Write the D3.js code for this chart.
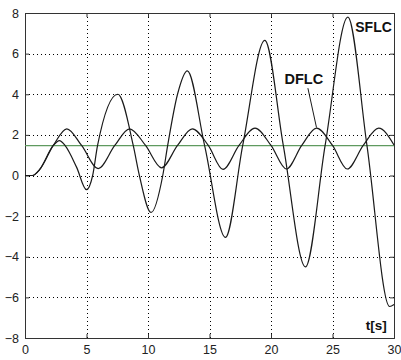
<!DOCTYPE html>
<html>
<head>
<meta charset="utf-8">
<script src="https://cdn.jsdelivr.net/npm/d3@7"></script>
<style>
  body { margin: 0; background: #fff; }
  svg { display: block; font-family: Arial, "Liberation Sans", sans-serif; }
</style>
</head>
<body>
<svg id="chart"></svg>
<script>
// data
const sflcT = [0, 0.6, 1.2, 2.3, 2.8, 3.25, 4.2, 5.0, 5.5, 5.9, 7.55, 8.8, 9.3, 10.25, 11.2, 11.6, 12.4, 13.2, 14.6, 16.3, 17.7, 19.5, 21.0, 22.8, 24.4, 26.25, 27.8, 29.65, 30];
const sflcV = [0, 0, 0.3, 1.48, 1.72, 1.48, 0.4, -0.7, 0, 1.48, 4.0, 1.48, 0, -1.82, 0, 1.48, 4.0, 5.15, 1.48, -3.05, 1.48, 6.65, 1.48, -4.5, 1.48, 7.8, 1.48, -6.45, -6.35];

const dflcT = [0, 0.6, 1.2, 2.3, 3.4, 4.6, 5.95, 7.3, 8.5, 9.8, 11.1, 12.4, 13.6, 14.9, 16.1, 17.4, 18.7, 20.0, 21.25, 22.5, 23.7, 25.0, 26.2, 27.5, 28.75, 30];
const dflcV = [0, 0, 0.3, 1.48, 2.3, 1.48, 0.34, 1.48, 2.3, 1.48, 0.38, 1.48, 2.3, 1.48, 0.3, 1.48, 2.33, 1.48, 0.32, 1.48, 2.33, 1.48, 0.32, 1.48, 2.33, 1.5];

const refLevel = 1.47;

const xTicks = [0, 5, 10, 15, 20, 25, 30];
const yTicks = [-8, -6, -4, -2, 0, 2, 4, 6, 8];

const width = 401;
const height = 360;
const margin = {top: 13, right: 7, bottom: 22, left: 25};

const svg = d3.select('#chart')
  .attr('width', width)
  .attr('height', height);

const x = d3.scaleLinear().domain([0, 30]).range([margin.left, width - margin.right]);
const y = d3.scaleLinear().domain([-8, 8]).range([height - margin.bottom, margin.top]);

// grid
const grid = svg.append('g')
  .attr('stroke', '#000')
  .attr('stroke-width', 1)
  .attr('stroke-dasharray', '1,3');
grid.selectAll('.gx')
  .data(xTicks.slice(1, -1))
  .enter().append('line')
  .attr('x1', d => Math.round(x(d)) + 0.5).attr('x2', d => Math.round(x(d)) + 0.5)
  .attr('y1', y(8)).attr('y2', y(-8));
grid.selectAll('.gy')
  .data(yTicks.slice(1, -1))
  .enter().append('line')
  .attr('y1', d => Math.round(y(d)) + 0.5).attr('y2', d => Math.round(y(d)) + 0.5)
  .attr('x1', x(0)).attr('x2', x(30));

// axes
const xAxis = d3.axisBottom(x).tickValues(xTicks).tickSize(-4).tickPadding(7);
const yAxis = d3.axisLeft(y).tickValues(yTicks).tickSize(-4).tickPadding(6);

svg.append('g')
  .attr('transform', `translate(0,${y(-8)})`)
  .call(xAxis);
svg.append('g')
  .attr('transform', `translate(${x(0)},0)`)
  .call(yAxis);
svg.append('g')
  .attr('transform', `translate(0,${y(8)})`)
  .call(d3.axisTop(x).tickValues(xTicks).tickSize(-4).tickFormat(''));
svg.append('g')
  .attr('transform', `translate(${x(30)},0)`)
  .call(d3.axisRight(y).tickValues(yTicks).tickSize(-4).tickFormat(''));

svg.selectAll('.domain').attr('stroke', '#333');
svg.selectAll('.tick line').attr('stroke', '#333');
svg.selectAll('.tick text')
  .attr('fill', '#222')
  .style('font-size', '12.5px');

// reference line
svg.append('line')
  .attr('x1', x(0)).attr('x2', x(30))
  .attr('y1', y(refLevel)).attr('y2', y(refLevel))
  .attr('stroke', '#5f9a5f')
  .attr('stroke-width', 1.2);

// curves
const line = d3.line()
  .x(d => x(d[0]))
  .y(d => y(d[1]))
  .curve(d3.curveMonotoneX);

const sflc = sflcT.map((t, i) => [t, sflcV[i]]);
const dflc = dflcT.map((t, i) => [t, dflcV[i]]);

[dflc, sflc].forEach(data => {
  svg.append('path')
    .datum(data)
    .attr('d', line)
    .attr('fill', 'none')
    .attr('stroke', '#1a1a1a')
    .attr('stroke-width', 1.2);
});

// labels
svg.append('text')
  .attr('x', x(26.85)).attr('y', y(7.05))
  .style('font-size', '14px').style('font-weight', 'bold')
  .attr('fill', '#111')
  .text('SFLC');

svg.append('text')
  .attr('x', x(21.1)).attr('y', y(4.5))
  .style('font-size', '14.5px').style('font-weight', 'bold')
  .attr('fill', '#111')
  .text('DFLC');

svg.append('line')
  .attr('x1', x(23.0)).attr('y1', y(4.3))
  .attr('x2', x(23.7)).attr('y2', y(2.36))
  .attr('stroke', '#1a1a1a')
  .attr('stroke-width', 1);

svg.append('text')
  .attr('x', x(27.7)).attr('y', y(-7.63))
  .style('font-size', '13.5px').style('font-weight', 'bold')
  .attr('fill', '#111')
  .text('t[s]');
</script>
</body>
</html>
